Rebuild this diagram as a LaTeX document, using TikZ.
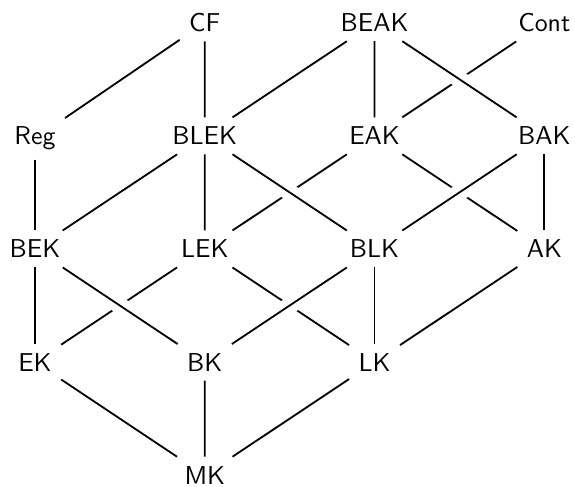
\documentclass[tikz,border=0pt]{standalone}
\usepackage{tikz}
\begin{document}
\begin{tikzpicture}[x=2.31cm,y=1.539cm,font=\sffamily,line width=0.7pt,
    cls/.style={anchor=base},
    over/.style={preaction={draw,white,line width=6.5pt}}]
        \useasboundingbox (-0.476cm,-6.181cm) rectangle (7.347cm,0.431cm);
        \node[cls] (CF) at (1,0) {CF};
        \node[cls] (BEAK) at (2,0) {BEAK};
        \node[cls] (Cont) at (3,0) {Cont};
        \node[cls] (Reg) at (0,-1) {Reg};
        \node[cls] (BLEK) at (1,-1) {BLEK};
        \node[cls] (EAK) at (2,-1) {EAK};
        \node[cls] (BAK) at (3,-1) {BAK};
        \node[cls] (BEK) at (0,-2) {BEK};
        \node[cls] (LEK) at (1,-2) {LEK};
        \node[cls] (BLK) at (2,-2) {BLK};
        \node[cls] (AK) at (3,-2) {AK};
        \node[cls] (EK) at (0,-3) {EK};
        \node[cls] (BK) at (1,-3) {BK};
        \node[cls] (LK) at (2,-3) {LK};
        \node[cls] (MK) at (1,-4) {MK};
        \draw (CF) -- (Reg) (CF) -- (BLEK);
        \draw (BEAK) -- (BLEK) (BEAK) -- (EAK);
        \draw (Cont) -- (EAK);
        \draw (Reg) -- (BEK);
        \draw (BLEK) -- (BEK) (BLEK) -- (LEK);
        \draw (EAK) -- (LEK) (EAK) -- (AK);
        \draw (BAK) -- (AK);
        \draw (BEK) -- (EK);
        \draw (LEK) -- (EK) (LEK) -- (LK);
        \draw (BLK) -- (LK);
        \draw (AK) -- (LK);
        \draw (EK) -- (MK) (BK) -- (MK) (LK) -- (MK);
        \draw[over] (BEAK) -- (BAK);
        \draw[over] (BLEK) -- (BLK);
        \draw[over] (BAK) -- (BLK);
        \draw[over] (BEK) -- (BK);
        \draw[over] (BLK) -- (BK);
      \end{tikzpicture}
\end{document}
